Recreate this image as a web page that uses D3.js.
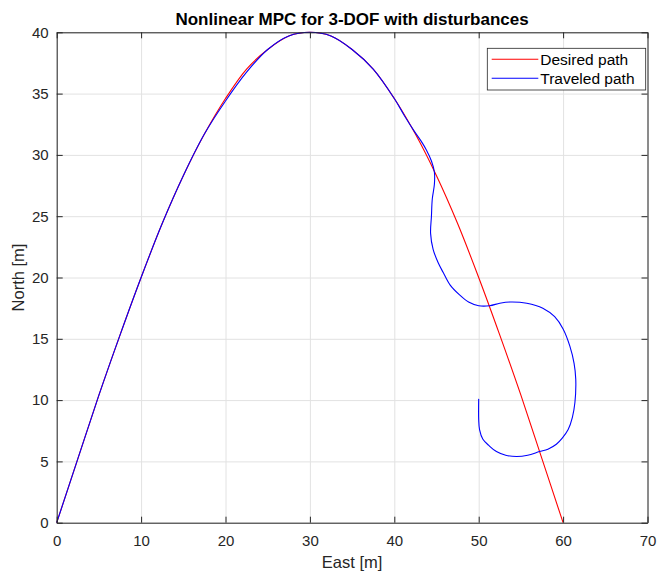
<!DOCTYPE html>
<html>
<head>
<meta charset="utf-8">
<script src="https://cdn.jsdelivr.net/npm/d3@7"></script>
<style>
  body { margin: 0; background: #fff; }
  svg { display: block; }
  text { font-family: "Liberation Sans", Arial, sans-serif; fill: #262626; }
</style>
</head>
<body>
<svg id="chart" width="658" height="574"></svg>
<script>
// Data
const desiredEast = [0, 2.5, 5, 7.5, 10, 12.5, 15, 17.5, 20, 22.5, 25, 27.5, 30,
  32.5, 35, 37.5, 40, 42.5, 45, 47.5, 50, 52.5, 55, 57.5, 60];
const desiredNorth = [0, 5.2, 10.4, 15.3, 20, 24.4, 28.3, 31.7, 34.6, 37, 38.6, 39.7, 40,
  39.7, 38.6, 37, 34.6, 31.7, 28.3, 24.4, 20, 15.3, 10.4, 5.2, 0];

const traveledEast = [0, 2.5, 5, 7.5, 10, 12.5, 15, 17.5, 20, 22.5, 25, 27.5, 30,
  32.5, 35, 37.5, 40, 41.2, 42.4, 43.2, 43.8, 44.4, 44.75, 44.75, 44.5, 44.4, 44.3,
  44.6, 45.2, 45.8, 46.6, 47.7, 48.8, 50, 51.3, 52.5, 53.7, 55.7, 57.6, 59, 60,
  60.8, 61.3, 61.5, 61.4, 61.1, 60.6, 59.9, 59.2, 58.2, 57.2, 55.8, 54.5, 53.2,
  52.1, 51.2, 50.5, 50.1, 50, 50];
const traveledNorth = [0, 5.2, 10.4, 15.3, 20, 24.4, 28.3, 31.7, 34.4, 36.75, 38.6, 39.7, 40,
  39.7, 38.6, 37, 34.6, 33.2, 31.9, 31.1, 30.4, 29.5, 28.6, 27.6, 26.4, 25, 23.6,
  22.3, 21.2, 20.4, 19.4, 18.6, 18, 17.7, 17.7, 17.9, 18, 17.9, 17.5, 16.8, 15.8,
  14.4, 13, 11.7, 9.8, 8.6, 7.6, 6.9, 6.4, 6, 5.8, 5.5, 5.4, 5.5,
  5.8, 6.3, 6.8, 7.6, 8.4, 10.1];

const xTicks = [0, 10, 20, 30, 40, 50, 60, 70];
const yTicks = [0, 5, 10, 15, 20, 25, 30, 35, 40];
const legendLabels = ['Desired path', 'Traveled path'];
const legendColors = ['#ff0000', '#0000ff'];

const svg = d3.select('#chart');
const margin = { left: 56.7, right: 10.5, top: 32.3, bottom: 51.3 };
const W = 658, H = 574;
const width = W - margin.left - margin.right;
const height = H - margin.top - margin.bottom;

const x = d3.scaleLinear().domain([0, 70]).range([0, width]);
const y = d3.scaleLinear().domain([0, 40]).range([height, 0]);

const g = svg.append('g').attr('transform', `translate(${margin.left},${margin.top})`);

// Grid
g.append('g')
  .attr('transform', `translate(0,${height})`)
  .call(d3.axisBottom(x).tickValues(xTicks).tickSize(-height).tickFormat(''))
  .call(a => a.select('.domain').remove())
  .call(a => a.selectAll('line').attr('stroke', '#e2e2e2'));
g.append('g')
  .call(d3.axisLeft(y).tickValues(yTicks).tickSize(-width).tickFormat(''))
  .call(a => a.select('.domain').remove())
  .call(a => a.selectAll('line').attr('stroke', '#e2e2e2'));

// Paths
const line = d3.line()
  .x(d => x(d[0]))
  .y(d => y(d[1]))
  .curve(d3.curveCatmullRom.alpha(0.5));

const desired = desiredEast.map((e, i) => [e, desiredNorth[i]]);
const traveled = traveledEast.map((e, i) => [e, traveledNorth[i]]);

g.append('path').datum(desired)
  .attr('d', line).attr('fill', 'none')
  .attr('stroke', legendColors[0]).attr('stroke-width', 1.1);
g.append('path').datum(traveled)
  .attr('d', line).attr('fill', 'none')
  .attr('stroke', legendColors[1]).attr('stroke-width', 1.1);

// Axes (box with inward ticks)
function styleAxis(a) {
  a.select('.domain').attr('stroke', '#262626');
  a.selectAll('.tick line').attr('stroke', '#262626');
  a.selectAll('text').attr('font-size', '15px').attr('fill', '#262626')
    .attr('font-family', '"Liberation Sans", Arial, sans-serif');
}
g.append('g')
  .attr('transform', `translate(0,${height})`)
  .call(d3.axisBottom(x).tickValues(xTicks).tickSizeInner(-6).tickSizeOuter(0).tickPadding(12.5))
  .call(styleAxis);
g.append('g')
  .call(d3.axisTop(x).tickValues(xTicks).tickSizeInner(-6).tickSizeOuter(0).tickFormat(''))
  .call(styleAxis);
g.append('g')
  .call(d3.axisLeft(y).tickValues(yTicks).tickSizeInner(-6).tickSizeOuter(0).tickPadding(8))
  .call(styleAxis);
g.append('g')
  .attr('transform', `translate(${width},0)`)
  .call(d3.axisRight(y).tickValues(yTicks).tickSizeInner(-6).tickSizeOuter(0).tickFormat(''))
  .call(styleAxis);

// Labels
svg.append('text')
  .attr('x', margin.left + width / 2).attr('y', 25)
  .attr('text-anchor', 'middle')
  .attr('font-size', '17px').attr('font-weight', 'bold').style('fill', '#000')
  .text('Nonlinear MPC for 3-DOF with disturbances');
svg.append('text')
  .attr('x', margin.left + width / 2).attr('y', 567.7)
  .attr('text-anchor', 'middle')
  .attr('font-size', '16.5px')
  .text('East [m]');
svg.append('text')
  .attr('transform', `translate(24,${margin.top + height / 2}) rotate(-90)`)
  .attr('text-anchor', 'middle')
  .attr('font-size', '16.5px')
  .text('North [m]');

// Legend
const legend = svg.append('g').attr('transform', 'translate(487.3,48.3)');
legend.append('rect')
  .attr('width', 158.4).attr('height', 41.7)
  .attr('fill', '#fff').attr('stroke', '#262626').attr('stroke-width', 0.8);
legendLabels.forEach((label, i) => {
  const ly = 11 + i * 19;
  legend.append('line')
    .attr('x1', 4.4).attr('x2', 51)
    .attr('y1', ly).attr('y2', ly)
    .attr('stroke', legendColors[i]).attr('stroke-width', 1.1);
  legend.append('text')
    .attr('x', 53).attr('y', ly + 5.5)
    .attr('font-size', '15.5px')
    .style('fill', '#000')
    .text(label);
});
</script>
</body>
</html>
